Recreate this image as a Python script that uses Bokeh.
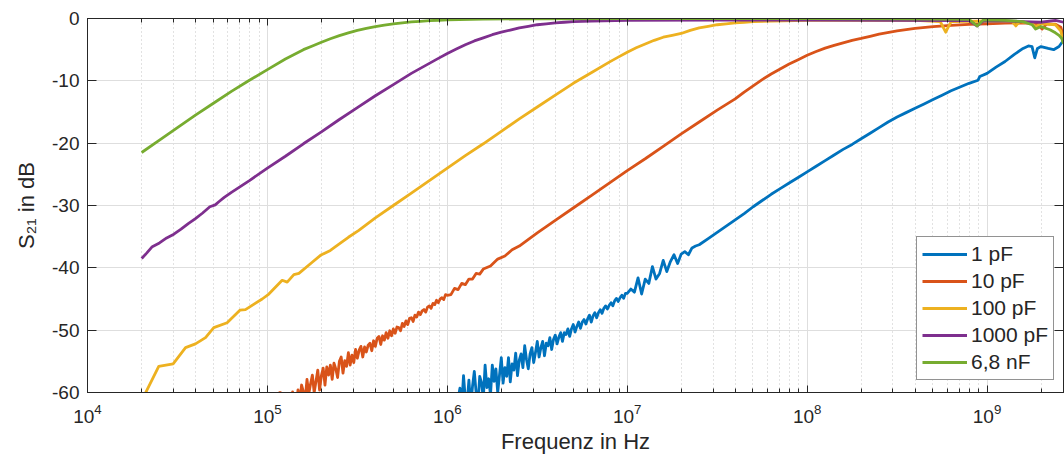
import numpy as np
from bokeh.plotting import figure
from bokeh.models import (Range1d, LogAxis, LinearAxis, FixedTicker, LogTickFormatter,
                          Legend, LegendItem)
from bokeh.embed import file_html
from bokeh.resources import INLINE

# ---------------- data (log10 of frequency in Hz, S21 in dB) ----------------
series_names = ["1 pF", "10 pF", "100 pF", "1000 pF", "6,8 nF"]
series_colors = ["#0072BD", "#D95319", "#EDB120", "#7E2F8E", "#77AC30"]

# 1 pF  (measurement sweep 10^6.06 ... 10^7.00, then sparser points)
blue_sweep_exp = [round(6.06 + 0.01 * i, 2) for i in range(95)]
blue_sweep_db = [
    -61.0, -59.3, -62.1, -57.3, -61.0, -61.7, -58.0, -62.2, -59.0, -56.6,
    -60.0, -62.0, -57.4, -58.4, -61.0, -55.6, -59.2, -57.8, -60.4, -55.6,
    -58.2, -56.2, -60.0, -57.2, -54.4, -58.5, -56.0, -57.4, -54.4, -58.3,
    -55.4, -56.4, -53.7, -57.3, -54.8, -53.8, -56.0, -52.5, -54.7, -56.2,
    -53.8, -52.8, -55.2, -53.6, -51.8, -54.3, -52.8, -51.8, -54.1, -52.1,
    -52.5, -51.2, -53.1, -51.5, -50.8, -52.2, -51.1, -50.4, -51.8, -50.4,
    -50.7, -49.8, -51.0, -49.8, -49.1, -50.3, -49.4, -48.7, -49.7, -48.7,
    -48.3, -49.0, -48.2, -47.6, -48.7, -47.7, -47.2, -48.0, -47.2, -46.7,
    -47.3, -46.5, -46.1, -46.6, -46.0, -45.6, -46.1, -45.3, -44.9, -45.4,
    -44.8, -44.4, -44.9, -44.1, -44.1]
blue_tail_exp = [7.02, 7.04, 7.06, 7.08, 7.10, 7.12, 7.14, 7.16, 7.18, 7.20,
                 7.22, 7.24, 7.26, 7.28, 7.30, 7.32, 7.34, 7.36, 7.38, 7.40,
                 7.45, 7.5, 7.55, 7.6, 7.65, 7.7, 7.75, 7.8, 7.85, 7.9, 7.95,
                 8.0, 8.05, 8.1, 8.15, 8.2, 8.25, 8.3, 8.35, 8.4, 8.45, 8.5,
                 8.55, 8.6, 8.65, 8.7, 8.75, 8.8, 8.85, 8.9, 8.95, 8.96, 9.0,
                 9.05, 9.1, 9.15, 9.2, 9.23, 9.25, 9.265, 9.28, 9.3, 9.34, 9.37,
                 9.4, 9.425]
blue_tail_db = [-43.4, -43.9, -41.6, -44.2, -41.8, -42.5, -39.8, -41.8, -40.9, -38.8,
                -40.6, -39.0, -37.9, -39.3, -37.8, -37.4, -37.9, -36.8, -36.5, -36.3,
                -35.3, -34.3, -33.3, -32.3, -31.3, -30.2, -29.2, -28.2, -27.3, -26.4,
                -25.5, -24.6, -23.7, -22.8, -21.9, -21.0, -20.2, -19.3, -18.4, -17.5,
                -16.6, -15.8, -15.1, -14.4, -13.7, -13.0, -12.3, -11.6, -11.0, -10.4,
                -9.9, -9.3, -8.8, -7.8, -6.9, -5.8, -4.8, -4.4, -4.5, -6.3, -4.8,
                -4.5, -4.8, -5.0, -4.5, -3.5]

# 10 pF
orange_sweep_exp = [round(5.07 + 0.01 * i, 2) for i in range(94)]
orange_sweep_db = [
    -59.8, -63.6, -61.8, -63.2, -60.4, -61.9, -63.0, -59.9, -61.6, -62.4,
    -59.6, -61.4, -58.8, -59.9, -61.0, -57.9, -60.2, -58.6, -57.2, -60.0,
    -58.2, -56.4, -59.6, -57.3, -56.1, -58.8, -55.9, -57.2, -55.6, -57.9,
    -55.3, -56.2, -57.6, -55.0, -54.3, -56.9, -54.9, -55.8, -53.6, -55.6,
    -54.0, -55.2, -53.1, -54.5, -53.2, -52.6, -54.3, -52.7, -53.5, -52.4,
    -52.1, -53.3, -51.7, -52.6, -51.3, -51.0, -52.3, -50.9, -51.6, -50.4,
    -51.3, -50.1, -50.9, -49.8, -50.5, -49.5, -49.6, -50.1, -48.9, -49.4,
    -48.5, -49.1, -48.1, -48.0, -48.6, -47.6, -47.9, -47.1, -47.5, -46.9,
    -46.7, -47.1, -46.3, -46.1, -46.5, -45.7, -45.9, -45.2, -45.6, -45.0,
    -44.8, -45.1, -44.3, -44.4]
orange_tail_exp = [6.02, 6.04, 6.06, 6.08, 6.10, 6.12, 6.14, 6.16, 6.18, 6.20,
                   6.24, 6.28, 6.32, 6.36, 6.40, 6.5, 6.6, 6.7, 6.8, 6.9, 7.0,
                   7.1, 7.2, 7.3, 7.4, 7.5, 7.6, 7.65, 7.7, 7.75, 7.8, 7.85, 7.9,
                   7.95, 8.0, 8.05, 8.1, 8.15, 8.2, 8.25, 8.3, 8.35, 8.4, 8.5, 8.6,
                   8.7, 8.8, 8.9, 9.0, 9.1, 9.2, 9.28, 9.306, 9.33, 9.38, 9.41, 9.425]
orange_tail_db = [-44.3, -43.3, -43.5, -42.5, -42.7, -41.8, -41.8, -40.9, -41.0, -40.2,
                  -39.7, -38.6, -38.1, -37.1, -36.5, -34.4, -32.4, -30.4, -28.4, -26.4,
                  -24.4, -22.5, -20.5, -18.5, -16.6, -14.7, -12.9, -11.8, -10.8, -9.8,
                  -8.9, -8.1, -7.3, -6.6, -5.9, -5.3, -4.75, -4.3, -3.9, -3.5, -3.2,
                  -2.85, -2.5, -2.0, -1.6, -1.3, -1.1, -0.95, -0.85, -0.75, -0.7, -0.8,
                  -1.7, -0.9, -0.9, -1.4, -3.0]

# 100 pF
yellow_exp = [4.322, 4.396, 4.476, 4.545, 4.60, 4.656, 4.702, 4.776, 4.847, 4.878,
              4.971, 5.008, 5.082, 5.11, 5.147, 5.175, 5.249, 5.295, 5.35, 5.388,
              5.45, 5.508, 5.6, 5.7, 5.8, 5.9, 6.0, 6.1, 6.2, 6.3, 6.4, 6.5, 6.6,
              6.7, 6.8, 6.9, 6.95, 7.0, 7.05, 7.1, 7.15, 7.2, 7.25, 7.3, 7.35, 7.4,
              7.45, 7.5, 7.55, 7.6, 7.65, 7.7, 7.8, 8.0, 8.3, 8.6, 8.74, 8.77, 8.80,
              9.0, 9.14, 9.16, 9.18, 9.25, 9.27, 9.30, 9.38, 9.41, 9.425]
yellow_db = [-60.1, -55.8, -55.4, -52.8, -52.2, -51.2, -49.6, -48.8, -46.8, -46.7,
             -45.0, -44.2, -42.0, -42.3, -41.1, -40.9, -39.1, -38.0, -37.2, -36.4,
             -35.1, -34.0, -32.0, -30.0, -28.0, -26.0, -24.0, -22.0, -20.1, -18.1,
             -16.1, -14.2, -12.3, -10.4, -8.7, -7.0, -6.2, -5.4, -4.7, -4.1, -3.5,
             -3.0, -2.7, -2.4, -1.9, -1.5, -1.25, -1.0, -0.85, -0.7, -0.6, -0.5,
             -0.4, -0.3, -0.3, -0.3, -0.5, -2.2, -0.5, -0.4, -0.5, -1.2, -0.5,
             -0.8, -1.3, -0.8, -1.0, -2.0, -4.0]

# 1000 pF
purple_exp = [4.301, 4.33, 4.36, 4.40, 4.44, 4.48, 4.52, 4.56, 4.60, 4.64, 4.68,
              4.71, 4.73, 4.76, 4.80, 4.9, 5.0, 5.1, 5.2, 5.3, 5.4, 5.5, 5.6, 5.7,
              5.8, 5.9, 5.95, 6.0, 6.05, 6.1, 6.15, 6.2, 6.25, 6.3, 6.35, 6.4, 6.45,
              6.5, 6.55, 6.6, 6.65, 6.7, 6.75, 6.8, 7.0, 7.5, 8.0, 8.5, 8.9, 8.945,
              8.98, 9.1, 9.2, 9.3, 9.38, 9.425]
purple_db = [-38.5, -37.6, -36.6, -36.0, -35.2, -34.6, -33.8, -32.9, -32.1, -31.2,
             -30.2, -29.9, -29.4, -28.7, -27.9, -26.0, -24.0, -22.1, -20.1, -18.2,
             -16.2, -14.3, -12.4, -10.6, -8.8, -7.2, -6.4, -5.6, -4.9, -4.2, -3.6,
             -3.1, -2.6, -2.2, -1.85, -1.5, -1.25, -1.0, -0.85, -0.7, -0.6, -0.5,
             -0.45, -0.4, -0.3, -0.25, -0.25, -0.3, -0.35, -1.2, -0.4, -0.4, -0.5,
             -0.6, -0.3, -0.6]

# 6,8 nF
green_exp = [4.301, 4.4, 4.5, 4.6, 4.7, 4.8, 4.9, 5.0, 5.1, 5.2, 5.25, 5.3, 5.35,
             5.4, 5.45, 5.5, 5.55, 5.6, 5.65, 5.7, 5.75, 5.8, 5.85, 5.9, 5.95, 6.0,
             6.2, 6.5, 7.0, 8.0, 8.5, 8.9, 8.945, 8.98, 9.1, 9.2, 9.25, 9.27, 9.3,
             9.35, 9.38, 9.40, 9.415, 9.425]
green_db = [-21.5, -19.5, -17.5, -15.5, -13.6, -11.7, -9.9, -8.2, -6.5, -5.0, -4.4,
            -3.8, -3.25, -2.75, -2.3, -1.9, -1.6, -1.3, -1.05, -0.85, -0.7, -0.55,
            -0.45, -0.35, -0.28, -0.22, -0.1, -0.05, 0.0, 0.0, -0.05, -0.15, -1.2,
            -0.2, -0.3, -0.5, -1.0, -1.7, -1.3, -1.8, -2.3, -2.7, -3.2, -4.0]

x_major_exp = [4, 5, 6, 7, 8, 9]
y_ticks = [-60, -50, -40, -30, -20, -10, 0]
y_tick_labels = ["-60", "-50", "-40", "-30", "-20", "-10", "0"]
x_label = "Frequenz in Hz"
y_label = "S\u2082\u2081 in dB"

# ---------------- build ----------------
curves = [
    (blue_sweep_exp + blue_tail_exp, blue_sweep_db + blue_tail_db),
    (orange_sweep_exp + orange_tail_exp, orange_sweep_db + orange_tail_db),
    (yellow_exp, yellow_db),
    (purple_exp, purple_db),
    (green_exp, green_db),
]

x_min, x_max = 1e4, 2.66e9
x_major = [10.0 ** e for e in x_major_exp]
x_minor = [k * 10.0 ** e for e in x_major_exp for k in range(2, 10) if k * 10.0 ** e < x_max]

FONT = "Liberation Sans"
TXT = "#262626"

p = figure(width=1064, height=457, x_axis_type="log",
           x_range=Range1d(x_min, x_max), y_range=Range1d(-60, 0),
           output_backend="svg", toolbar_location=None,
           min_border_left=87, min_border_right=1, min_border_top=18,
           min_border_bottom=65, background_fill_color="white",
           border_fill_color="white")
p.outline_line_color = TXT
p.outline_line_width = 1

xt = FixedTicker(ticks=x_major, minor_ticks=x_minor)
yt = FixedTicker(ticks=y_ticks, minor_ticks=[])

xa = p.xaxis[0]
xa.ticker = xt
xa.formatter = LogTickFormatter()
ya = p.yaxis[0]
ya.ticker = yt
ya.major_label_overrides = {t: s for t, s in zip(y_ticks, y_tick_labels)}

for ax in (xa, ya):
    ax.axis_line_color = TXT
    ax.major_tick_line_color = TXT
    ax.minor_tick_line_color = TXT
    ax.major_tick_out = 0
    ax.minor_tick_out = 0
    ax.major_label_text_font = FONT
    ax.major_label_text_font_size = "19px"
    ax.major_label_text_color = TXT
    ax.axis_label_text_font = FONT
    ax.axis_label_text_font_size = "22px"
    ax.axis_label_text_font_style = "normal"
    ax.axis_label_text_color = TXT
xa.major_tick_in = 7
xa.minor_tick_in = 4
ya.major_tick_in = 9
ya.minor_tick_in = 0
xa.major_label_standoff = 11
ya.major_label_standoff = 8
xa.axis_label = x_label
ya.axis_label = y_label
xa.axis_label_standoff = 3
ya.axis_label_standoff = 10

# box ticks on top/right (no labels)
top = LogAxis(ticker=xt, major_label_overrides={t: "" for t in x_major})
right = LinearAxis(ticker=yt, major_label_overrides={t: "" for t in y_ticks})
for ax, tin, mtin in ((top, 7, 4), (right, 9, 0)):
    ax.axis_line_color = TXT
    ax.major_tick_line_color = TXT
    ax.minor_tick_line_color = TXT if mtin else None
    ax.major_tick_out = 0
    ax.minor_tick_out = 0
    ax.major_tick_in = tin
    ax.minor_tick_in = mtin
    ax.major_label_standoff = 0
    ax.major_label_text_font_size = "1px"
p.add_layout(top, "above")
p.add_layout(right, "right")

p.xgrid.ticker = xt
p.ygrid.ticker = yt
p.xgrid.grid_line_color = "#dedede"
p.ygrid.grid_line_color = "#dedede"
p.xgrid.minor_grid_line_color = "#c4c4c4"
p.xgrid.minor_grid_line_dash = "1 3"
p.ygrid.minor_grid_line_color = None

items = []
for (ex, db), name, col in zip(curves, series_names, series_colors):
    f = [10.0 ** e for e in ex]
    r = p.line(f, db, line_color=col, line_width=2.8, line_join="round")
    items.append(LegendItem(label=name, renderers=[r]))

legend = Legend(items=items, location=(829, 12))
legend.label_text_font = FONT
legend.label_text_font_size = "21px"
legend.label_text_color = TXT
legend.glyph_width = 45
legend.glyph_height = 20
legend.label_height = 20
legend.spacing = 3
legend.padding = 5
legend.margin = 0
legend.label_standoff = 4
legend.border_line_color = "#262626"
legend.border_line_width = 1
legend.background_fill_color = "white"
legend.background_fill_alpha = 1.0
p.add_layout(legend, "center")

open("out.html", "w").write(file_html(p, INLINE))
